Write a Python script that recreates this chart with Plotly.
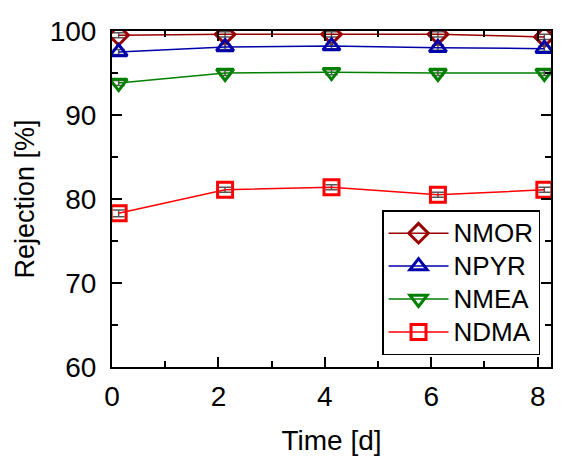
import plotly.graph_objects as go

time_d = [0.125, 2.125, 4.125, 6.125, 8.125]
nmor = [99.5, 99.6, 99.6, 99.6, 99.3]
npyr = [97.5, 98.1, 98.2, 98.0, 97.9]
nmea = [93.8, 95.0, 95.1, 95.0, 95.0]
ndma = [78.3, 81.1, 81.4, 80.5, 81.1]
err_nmor = [0.3, 0.3, 0.3, 0.3, 0.3]
err_npyr = [0.3, 0.3, 0.3, 0.3, 0.3]
err_nmea = [0.3, 0.3, 0.3, 0.3, 0.3]
err_ndma = [0.4, 0.3, 0.3, 0.3, 0.3]

series = [
    ("NMOR", nmor, err_nmor, "#990000", "diamond-open"),
    ("NPYR", npyr, err_npyr, "#0000AA", "triangle-up-open"),
    ("NMEA", nmea, err_nmea, "#008000", "triangle-down-open"),
    ("NDMA", ndma, err_ndma, "#FF0000", "square-open"),
]

FONT = "Liberation Sans, Arial"

fig = go.Figure()
for name, vals, errs, color, sym in series:
    fig.add_trace(go.Scatter(
        x=time_d, y=vals, name=f"<span style='font-size:26px'>{name}</span>", mode="lines+markers",
        line=dict(color=color, width=1.5),
        marker=dict(symbol=sym, size=15, color=color, line=dict(color=color, width=3)),
        error_y=dict(type="data", array=errs, visible=True, color="#555555", thickness=1.5, width=6),
    ))

axis_common = dict(
    showline=True, linecolor="black", linewidth=2, mirror="ticks",
    ticks="inside", ticklen=10, tickwidth=1.5, tickcolor="black",
    showgrid=False, zeroline=False, automargin=False,
    tickfont=dict(family=FONT, size=28, color="black"),
)

fig.update_xaxes(
    range=[0, 8.25], tickvals=[0, 2, 4, 6, 8],
    minor=dict(tickvals=[1, 3, 5, 7], ticks="inside", ticklen=6, tickwidth=1.5, tickcolor="black"),
    title=dict(text="Time [d]", font=dict(family=FONT, size=28, color="black"), standoff=20),
    ticklabelstandoff=3,
    **axis_common,
)
fig.update_yaxes(
    range=[60, 100], tickvals=[60, 70, 80, 90, 100],
    minor=dict(tickvals=[65, 75, 85, 95], ticks="inside", ticklen=6, tickwidth=1.5, tickcolor="black"),
    title=dict(text="Rejection [%]", font=dict(family=FONT, size=27, color="black"), standoff=7),
    ticklabelstandoff=8,
    **axis_common,
)

fig.update_layout(
    width=565, height=457,
    margin=dict(l=112, r=14, t=31, b=90),
    paper_bgcolor="white", plot_bgcolor="white",
    showlegend=True,
    legend=dict(
        x=0.975, y=0.035, xanchor="right", yanchor="bottom",
        bordercolor="black", borderwidth=1.5, bgcolor="white",
        font=dict(family=FONT, size=23, color="black"),
        itemwidth=60,
    ),
)

fig.write_html("out.html")
